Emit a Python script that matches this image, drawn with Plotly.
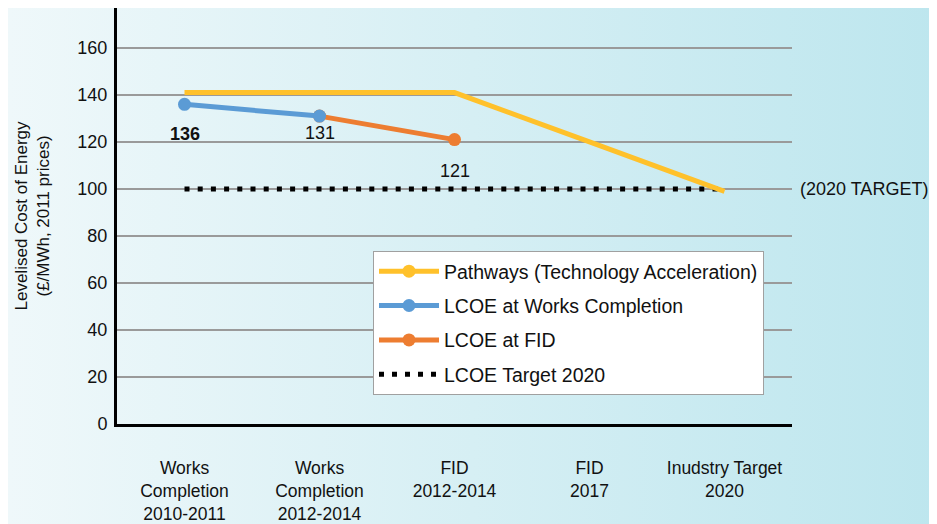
import base64
import plotly.graph_objects as go

categories = ["Works<br>Completion<br>2010-2011", "Works<br>Completion<br>2012-2014",
              "FID<br>2012-2014", "FID<br>2017", "Inudstry Target<br>2020"]
pathways = [141, 141, 141, 120, 99]
lcoe_works = [136, 131, None, None, None]
lcoe_fid = [None, 131, 121, None, None]
target_2020 = [100, 100, 100, 100, 100]
y_ticks = [0, 20, 40, 60, 80, 100, 120, 140, 160]

# the page body has an 8px margin; size the figure so it fits the 937x524 window
OFF = 8
W, H = 937 - OFF, 524 - OFF
L, T = 117 - OFF, 8 - OFF
R = W - (792 - OFF)
B = H - (424 - OFF)
pw, ph = W - L - R, H - T - B

YELLOW = "#FFC12B"
BLUE = "#5B9BD5"
ORANGE = "#ED7D31"
FONT = "Liberation Sans, Arial, sans-serif"

svg = ('<svg xmlns="http://www.w3.org/2000/svg" width="929" height="516" preserveAspectRatio="none">'
       '<defs><linearGradient id="g" x1="0" y1="0" x2="1" y2="0">'
       '<stop offset="0" stop-color="#eff8fa"/><stop offset="1" stop-color="#bde6ee"/>'
       '</linearGradient></defs><rect width="929" height="516" fill="url(#g)"/></svg>')
bg_src = "data:image/svg+xml;base64," + base64.b64encode(svg.encode()).decode()

fig = go.Figure()

# data traces (no legend)
fig.add_trace(go.Scatter(x=categories, y=target_2020, mode="lines", showlegend=False,
                         line=dict(color="#000000", width=5, dash="5px,8.2px")))
fig.add_trace(go.Scatter(x=categories, y=pathways, mode="lines", showlegend=False,
                         line=dict(color=YELLOW, width=5)))
fig.add_trace(go.Scatter(x=categories, y=lcoe_fid, mode="lines+markers", showlegend=False,
                         line=dict(color=ORANGE, width=5), marker=dict(size=13, color=ORANGE)))
fig.add_trace(go.Scatter(x=categories, y=lcoe_works, mode="lines+markers", showlegend=False,
                         line=dict(color=BLUE, width=5), marker=dict(size=13, color=BLUE)))

# legend entries
legend_specs = [
    ("Pathways (Technology Acceleration)", dict(color=YELLOW, width=5), "lines+markers", YELLOW),
    ("LCOE at Works Completion", dict(color=BLUE, width=5), "lines+markers", BLUE),
    ("LCOE at FID", dict(color=ORANGE, width=5), "lines+markers", ORANGE),
    ("LCOE Target 2020", dict(color="#000000", width=5, dash="5px,8px"), "lines", None),
]
for i, (name, line, mode, mc) in enumerate(legend_specs):
    kw = dict(x=[None], y=[None], name=name, mode=mode, line=line, legendgroup=f"g{i}")
    if mc:
        kw["marker"] = dict(size=13, color=mc)
    fig.add_trace(go.Scatter(**kw))

annotations = []
label_specs = [(0, lcoe_works[0], -30, True), (1, lcoe_works[1], -17, False),
               (2, lcoe_fid[2], -31, False)]
for ci, v, shift, bold in label_specs:
    txt = f"<b>{v}</b>" if bold else f"{v}"
    annotations.append(dict(x=categories[ci], y=v, xref="x", yref="y", text=txt,
                            showarrow=False, yshift=shift,
                            font=dict(size=18, color="#111111", family=FONT)))
annotations.append(dict(x=1 + 6 / pw, y=target_2020[-1], xref="paper", yref="y",
                        text="(2020 TARGET)", showarrow=False, xanchor="left",
                        font=dict(size=18, color="#111111", family=FONT)))

fig.update_layout(
    width=W, height=H,
    margin=dict(l=L, r=R, t=T, b=B, pad=0),
    paper_bgcolor="#eff8fa",
    plot_bgcolor="rgba(0,0,0,0)",
    font=dict(family=FONT, size=17, color="#111111"),
    images=[dict(source=bg_src, xref="paper", yref="paper",
                 x=-L / pw, y=1 + T / ph, sizex=W / pw, sizey=H / ph,
                 xanchor="left", yanchor="top", sizing="stretch", layer="below")],
    legend=dict(x=(373 - 117) / pw, y=(424 - 251) / ph, xanchor="left", yanchor="top",
                bgcolor="#ffffff", bordercolor="#a0a0a0", borderwidth=1,
                traceorder="grouped", tracegroupgap=6, itemwidth=60,
                font=dict(size=19.5, family=FONT, color="#111111")),
    annotations=annotations,
    showlegend=True,
)
fig.update_xaxes(type="category", range=[-0.5, 4.5], automargin=False,
                 showline=True, linecolor="#000000", linewidth=3,
                 showgrid=False, zeroline=False, ticks="", ticklabelstandoff=26,
                 tickfont=dict(size=17.5, family=FONT, color="#111111"))
fig.update_yaxes(range=[0, 177], tickvals=y_ticks, automargin=False,
                 showline=True, linecolor="#000000",
                 linewidth=3, showgrid=True, gridcolor="#9a9a9a", gridwidth=2,
                 zeroline=False, ticks="", ticklabelstandoff=3,
                 tickfont=dict(size=18, family=FONT, color="#111111"),
                 title=dict(text="Levelised Cost of Energy<br>(£/MWh, 2011 prices)",
                            font=dict(size=17, family=FONT, color="#111111"), standoff=24))

fig.write_html("out.html")
